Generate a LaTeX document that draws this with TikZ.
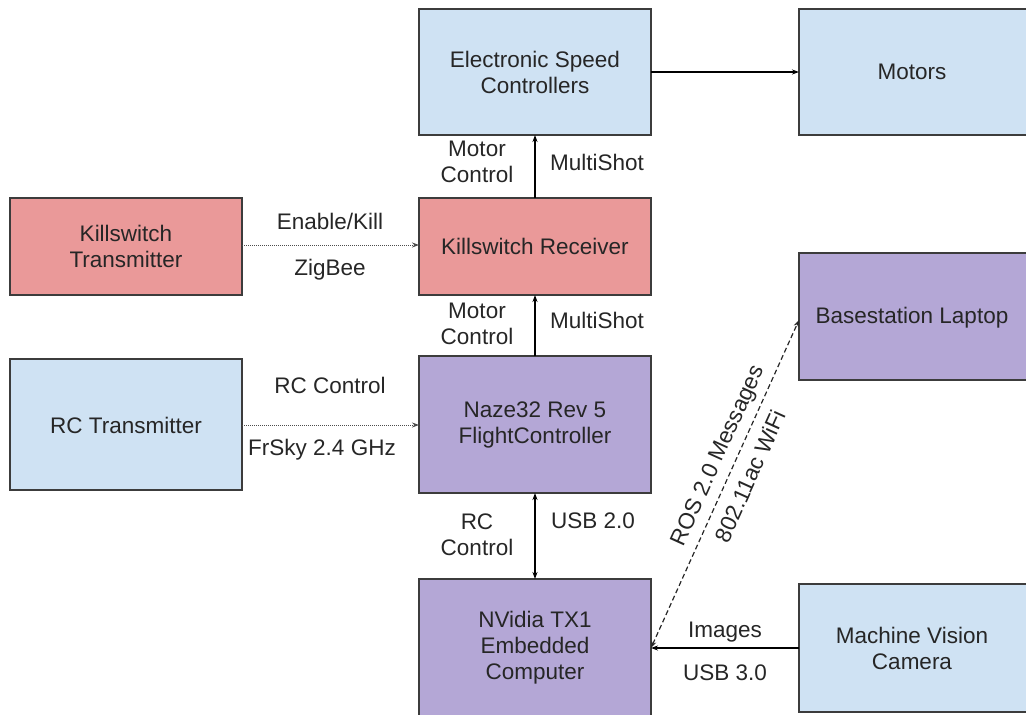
\documentclass[tikz,border=0pt]{standalone}
\usepackage{fontspec}
\setmainfont{Liberation Sans}
\usetikzlibrary{arrows.meta}
\definecolor{lblue}{HTML}{CFE2F3}
\definecolor{lred}{HTML}{EA9999}
\definecolor{lpurple}{HTML}{B4A7D6}
\definecolor{edge}{HTML}{3C3C3C}
\begin{document}
\begin{tikzpicture}[x=1pt,y=-1pt,
  box/.style={draw=edge,line width=1.3pt,inner sep=0pt},
  lbl/.style={font=\fontsize{22.5}{26}\selectfont,align=center,text=black!85,inner sep=0pt},
  conn/.style={line width=1.2pt,-{Stealth[length=7pt,width=5pt]}},
  dotconn/.style={line width=1pt,densely dotted,draw=black!70,-{Stealth[length=7pt,width=5pt]}},
  dashconn/.style={line width=1.2pt,dash pattern=on 5pt off 3pt,draw=black!85,{Stealth[length=7pt,width=5pt]}-{Stealth[length=7pt,width=5pt]}}]
\useasboundingbox (0,0) rectangle (1026,715);
% boxes
\draw[box,fill=lblue] (419,9) rectangle (651,135);
\draw[box,fill=lblue] (799,9) rectangle (1032,135);
\draw[box,fill=lred] (10,198) rectangle (242,295);
\draw[box,fill=lred] (419,198) rectangle (651,295);
\draw[box,fill=lpurple] (799,253) rectangle (1032,380);
\draw[box,fill=lblue] (10,359) rectangle (242,490);
\draw[box,fill=lpurple] (419,356) rectangle (651,493);
\draw[box,fill=lpurple] (419,579) rectangle (651,722);
\draw[box,fill=lblue] (799,584) rectangle (1032,712);
% node texts
\node[lbl] (esc) at (535,72) {Electronic Speed\\Controllers};
\node[lbl] (mot) at (912,72) {Motors};
\node[lbl] (kt) at (126,246) {Killswitch\\Transmitter};
\node[lbl] (kr) at (535,246) {Killswitch Receiver};
\node[lbl] (bl) at (912,318) {Basestation Laptop};
\node[lbl] (rc) at (126,425) {RC Transmitter};
\node[lbl] (nz) at (535,425) {Naze32 Rev 5\\FlightController};
\node[lbl] (nv) at (535,648) {NVidia TX1\\Embedded\\Computer};
\node[lbl] (mv) at (912,648) {Machine Vision\\Camera};
% connection points
\coordinate (escR) at (651,72); \coordinate (motL) at (799,72);
\coordinate (escB) at (535,135); \coordinate (krT) at (535,198);
\coordinate (ktR) at (242,245); \coordinate (krL) at (419,245);
\coordinate (krB) at (535,295); \coordinate (nzT) at (535,356);
\coordinate (rcR) at (242,425); \coordinate (nzL) at (419,425);
\coordinate (nzB) at (535,493); \coordinate (nvT) at (535,579);
\coordinate (mvL) at (799,648); \coordinate (nvR) at (651,648);
\coordinate (blL) at (799,320);
% connectors
\draw[conn] (escR) -- (motL);
\draw[conn] (krT) -- (escB);
\draw[dotconn] (ktR) -- (krL);
\draw[conn] (nzT) -- (krB);
\draw[dotconn] (rcR) -- (nzL);
\draw[conn,{Stealth[length=7pt,width=5pt]}-{Stealth[length=7pt,width=5pt]}] (nzB) -- (nvT);
\draw[conn] (mvL) -- (nvR);
\draw[dashconn] (nvR) -- (blL);
\node[lbl,rotate=65.7] (ros) at (719,456) {ROS 2.0 Messages};
\node[lbl,rotate=65.7] (wifi) at (750,476) {802.11ac WiFi};
% labels
\node[lbl] at (477,162) {Motor\\Control};
\node[lbl] at (597,162) {MultiShot};
\node[lbl] at (330,221) {Enable/Kill};
\node[lbl] at (330,270) {ZigBee};
\node[lbl] at (477,324) {Motor\\Control};
\node[lbl] at (597,320) {MultiShot};
\node[lbl] at (330,385) {RC Control};
\node[lbl] at (322,450) {FrSky 2.4 GHz};
\node[lbl] at (477,535) {RC\\Control};
\node[lbl] at (593,521) {USB 2.0};
\node[lbl] at (725,632) {Images};
\node[lbl] at (725,673) {USB 3.0};
\end{tikzpicture}
\end{document}
